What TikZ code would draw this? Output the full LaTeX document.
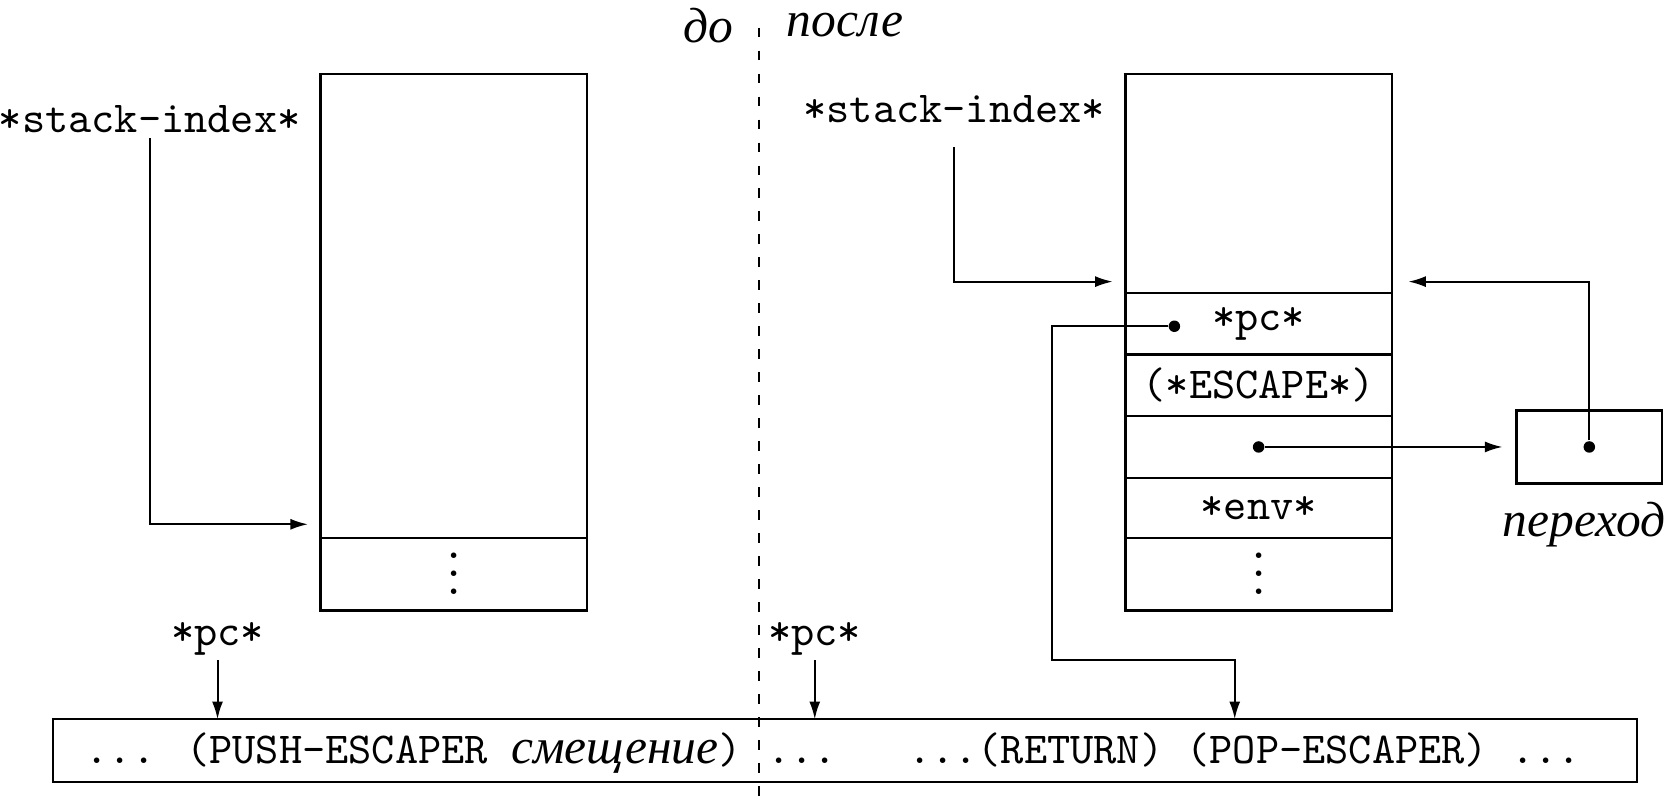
\documentclass[tikz,border=0pt]{standalone}
\usepackage{fontspec}
\newfontfamily\ruit[Scale=1.12]{Liberation Serif}
\usetikzlibrary{positioning,arrows.meta}
\tikzset{
  cell/.style={draw,line width=0.55pt,minimum width=2.12cm,inner sep=0pt,outer sep=0pt,font=\ttfamily},
  frame/.style={draw,line width=0.55pt,inner sep=0pt,outer sep=0pt},
  lbl/.style={inner sep=1pt,font=\ttfamily},
  rlbl/.style={inner sep=1pt,font=\ruit\itshape},
  dot/.style={circle,fill,inner sep=0pt,minimum size=2.6pt},
  link/.style={line width=0.45pt,->},
}
\newcommand{\stackdots}{\raisebox{-4.5pt}[0pt][0pt]{$\vdots$}}
\begin{document}
\begin{tikzpicture}[>={Latex[length=4pt,width=2.5pt]}]
\useasboundingbox (0,0) rectangle (13.25,6.42);
%\draw[step=1cm,gray,very thin] (0,0) grid (13,6);
\draw[dash pattern=on 2.2pt off 3pt,line width=0.45pt] (6.04,6.2) -- (6.04,0);
\node[rlbl] (before) at (5.63,6.22) {до};
\node[rlbl] (after) at (6.72,6.22) {после};

% before
\node[cell,minimum height=3.69cm,anchor=north west] (ltop) at (2.55,5.83) {};
\node[cell,minimum height=0.575cm,below=0pt of ltop] (lrest) {\stackdots};
\node[lbl] (lsi) at (1.19,5.47) {*stack-index*};
\coordinate (lsp) at (2.45,2.25);
\draw[link] (lsi) |- (lsp);

% after
\node[cell,minimum height=1.74cm,anchor=north west] (rtop) at (8.95,5.83) {};
\node[cell,minimum height=0.49cm,below=0pt of rtop] (rpc) {*pc*};
\node[cell,minimum height=0.49cm,below=0pt of rpc] (resc) {(*ESCAPE*)};
\node[cell,minimum height=0.49cm,below=0pt of resc] (rjmp) {};
\node[cell,minimum height=0.48cm,below=0pt of rjmp] (renv) {*env*};
\node[cell,minimum height=0.575cm,below=0pt of renv] (rrest) {\stackdots};
\node[lbl] (rsi) at (7.59,5.55) {*stack-index*};
\coordinate (rsp) at (8.85,4.18);
\draw[link] ([yshift=-0.15cm]rsi.south) |- (rsp);

\node[frame,minimum width=1.16cm,minimum height=0.58cm,right=0.99cm of rjmp] (jbox) {};
\node[rlbl] (jlbl) at (12.6,2.25) {переход};
\node[dot] (jdot) at (jbox.center) {};
\node[dot] (edot) at (rjmp.center) {};
\draw[link] (edot) -- ([xshift=-0.11cm]jbox.west);
\coordinate (ret) at (11.2,4.18);
\draw[link] (jdot) |- (ret);

% code
\node[frame,minimum width=12.6cm,minimum height=0.5cm] (prog) at (6.72,0.45) {};
\node[lbl,anchor=base west] (code1) at (0.64,0.35) {... (PUSH-ESCAPER {\ruit\itshape смещение})};
\node[lbl,anchor=base] (code2) at (6.38,0.35) {...};
\node[lbl,anchor=base west] (code3) at (7.18,0.35) {...(RETURN) (POP-ESCAPER) ...};

\node[lbl] (lpc) at (1.73,1.34) {*pc*};
\node[lbl] (rpcl) at (6.48,1.34) {*pc*};
\draw[link] (lpc) -- (lpc |- prog.north);
\draw[link] (rpcl) -- (rpcl |- prog.north);

\node[dot] (pdot) at ([xshift=-0.67cm,yshift=-0.02cm]rpc.center) {};
\coordinate (pcbend) at (8.37,1.17);
\coordinate (pcret) at (9.82,0.70);
\draw[link] (pdot) -| (pcbend) -| (pcret);
\end{tikzpicture}
\end{document}
